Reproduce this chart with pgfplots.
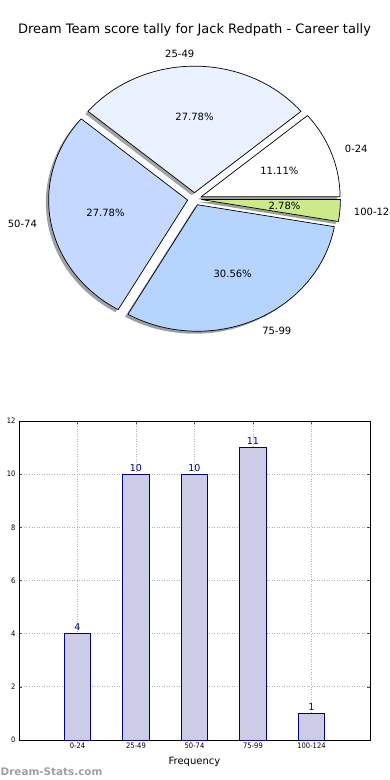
\documentclass[border=0pt]{standalone}
\usepackage{pgfplots}
\pgfplotsset{compat=1.18}
\usepackage{fontspec}
\setmainfont{DejaVu Sans}
\newfontfamily\condfont{DejaVu Sans Condensed}
\definecolor{s1}{HTML}{FFFFFF}
\definecolor{s2}{HTML}{EAF2FF}
\definecolor{s3}{HTML}{C5D8FF}
\definecolor{s4}{HTML}{B5D5FF}
\definecolor{s5}{HTML}{CDEA8A}
\definecolor{barfill}{HTML}{CCCCE6}
\definecolor{navyc}{HTML}{000080}
\newcommand{\piedata}{4/s1/0-24,10/s2/25-49,10/s3/50-74,11/s4/75-99,1/s5/100-124}
\pgfkeys{/pgf/number format/assume math mode=true}
\begin{document}
\begin{tikzpicture}
% ---------------- bars ----------------
\begin{axis}[name=bar, scale only axis,
  width=351pt, height=319pt,
  xmin=-1, xmax=5, ymin=0, ymax=12, enlargelimits=false,
  ybar, bar width=26.3pt,
  xtick={0,1,2,3,4}, xticklabels={0-24,25-49,50-74,75-99,100-124},
  ytick={0,2,4,6,8,10,12},
  grid=major,
  grid style={gray!60, line width=0.7pt, dash pattern=on 1pt off 1.5pt},
  axis line style={black, line width=0.8pt},
  tick style={black!70, line width=0.6pt},
  tick align=inside, major tick length=3pt,
  tick label style={font=\condfont\fontsize{7.5}{9}\selectfont},
  xticklabel style={yshift=1pt},
  xlabel={Frequency}, ylabel={Score Tally},
  xlabel style={font=\fontsize{10}{12}\selectfont, yshift=-2pt},
  ylabel style={font=\fontsize{10}{12}\selectfont, overlay},
  nodes near coords,
  nodes near coords style={text=navyc, font=\fontsize{9.5}{11}\selectfont, inner sep=2.5pt},
]
\addplot[fill=barfill, draw=navyc, line width=0.7pt] coordinates {(0,4) (1,10) (2,10) (3,11) (4,1)};
\end{axis}
% ---------------- pie ----------------
\begin{axis}[at={(bar.south west)}, anchor=south west, xshift=-19pt, yshift=-40pt,
  scale only axis,
  width=390pt, height=780pt, xmin=0, xmax=390, ymin=0, ymax=780,
  axis line style={draw=none}, xtick=\empty, ytick=\empty, clip=false]
\addplot[draw=none, forget plot] coordinates {(0,0)};
\pgfplotsextra{%
  \def\cx{194.5}\def\cy{581}\def\rx{139}\def\ry{126.5}\def\ex{0.05}%
  \gdef\total{0}%
  \foreach \v/\col/\lab in \piedata {\pgfmathsetmacro\t{\total+\v}\xdef\total{\t}}%
  % shadows
  \gdef\curang{0}%
  \foreach \v/\col/\lab in \piedata {%
    \pgfmathsetmacro\a{\curang}%
    \pgfmathsetmacro\b{\curang+360*\v/\total}%
    \pgfmathsetmacro\m{(\a+\b)/2}%
    \pgfmathsetmacro\ox{\cx+\ex*\rx*cos(\m)-2.8}%
    \pgfmathsetmacro\oy{\cy+\ex*\ry*sin(\m)-2.5}%
    \pgfmathsetmacro\sx{\ox+\rx*cos(\a)}%
    \pgfmathsetmacro\sy{\oy+\ry*sin(\a)}%
    \fill[\col!30!black, opacity=0.5] (axis cs:\ox,\oy) -- (axis cs:\sx,\sy)
      arc[start angle=\a, end angle=\b, x radius={\rx*1pt}, y radius={\ry*1pt}] -- cycle;
    \xdef\curang{\b}%
  }%
  % wedges and labels
  \gdef\curang{0}%
  \foreach \v/\col/\lab in \piedata {%
    \pgfmathsetmacro\a{\curang}%
    \pgfmathsetmacro\b{\curang+360*\v/\total}%
    \pgfmathsetmacro\m{(\a+\b)/2}%
    \pgfmathsetmacro\ox{\cx+\ex*\rx*cos(\m)}%
    \pgfmathsetmacro\oy{\cy+\ex*\ry*sin(\m)}%
    \pgfmathsetmacro\sx{\ox+\rx*cos(\a)}%
    \pgfmathsetmacro\sy{\oy+\ry*sin(\a)}%
    \filldraw[fill=\col, draw=black, line width=0.7pt, line join=round] (axis cs:\ox,\oy) -- (axis cs:\sx,\sy)
      arc[start angle=\a, end angle=\b, x radius={\rx*1pt}, y radius={\ry*1pt}] -- cycle;
    \pgfmathsetmacro\px{\ox+0.6*\rx*cos(\m)}%
    \pgfmathsetmacro\py{\oy+0.6*\ry*sin(\m)}%
    \pgfmathsetmacro\pct{100*\v/\total}%
    \node[font=\fontsize{10}{12}\selectfont, inner sep=0pt] at (axis cs:\px,\py)
      {\pgfmathprintnumber[fixed, fixed zerofill, precision=2]{\pct}\%};
    \pgfmathsetmacro\lx{\ox+1.1*\rx*cos(\m)}%
    \pgfmathsetmacro\ly{\oy+1.1*\ry*sin(\m)}%
    \pgfmathsetmacro\cc{cos(\m)}%
    \ifdim\cc pt>0.001pt\def\anc{west}\else\def\anc{east}\fi
    \node[overlay, font=\fontsize{10}{12}\selectfont, inner sep=0pt, anchor=\anc] at (axis cs:\lx,\ly) {\lab};
    \xdef\curang{\b}%
  }%
  \node[font=\fontsize{13}{15}\selectfont, inner sep=0pt] at (axis cs:194.5,750)
    {Dream Team score tally for Jack Redpath - Career tally};
  \node[overlay, font=\bfseries\fontsize{10.4}{12}\selectfont, text=gray!75, inner sep=0pt, anchor=base west]
    at (axis cs:0.5,5) {Dream-Stats.com};
}
\end{axis}
\end{tikzpicture}
\end{document}
